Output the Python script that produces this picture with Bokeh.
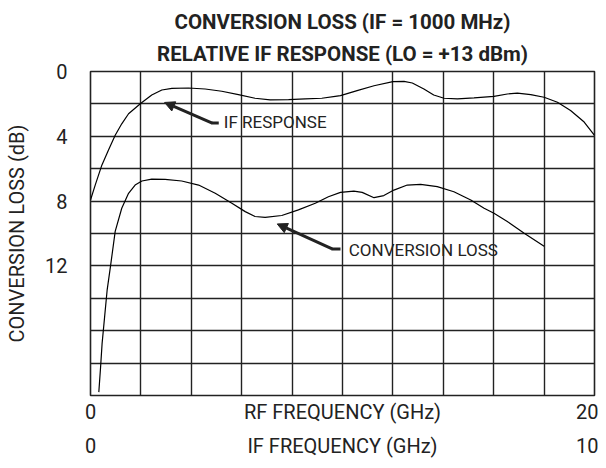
from bokeh.plotting import figure
from bokeh.models import Range1d, LinearAxis, FixedTicker, Title, Label, Arrow, NormalHead
from bokeh.embed import file_html
from bokeh.resources import INLINE

# ---- data ----
if_ghz = [0, 0.19, 0.45, 0.71, 0.98, 1.24, 1.51, 2.0, 2.43, 2.83, 3.23, 3.89, 4.55, 5.21,
          5.87, 6.53, 7.13, 7.86, 8.52, 9.18, 9.71, 9.92, 10.58, 11.25, 12.0, 12.44, 12.77,
          13.23, 13.62, 14.03, 14.56, 15.22, 16.01, 16.54, 16.94, 17.47, 18.0, 18.53, 19.05,
          19.59, 20.0]
if_resp_db = [7.93, 7.0, 5.78, 4.86, 3.94, 3.23, 2.61, 1.96, 1.45, 1.14, 1.04, 1.02, 1.08, 1.22,
              1.43, 1.65, 1.75, 1.73, 1.69, 1.65, 1.53, 1.49, 1.18, 0.88, 0.63, 0.61, 0.71,
              1.08, 1.45, 1.65, 1.69, 1.63, 1.53, 1.39, 1.33, 1.43, 1.59, 1.9, 2.41,
              3.12, 3.94]

cl_ghz = [0.33, 0.40, 0.46, 0.56, 0.66, 0.79, 0.98, 1.24, 1.51, 1.77, 2.04, 2.43, 2.96, 3.62,
          4.29, 4.95, 5.61, 6.14, 6.53, 6.93, 7.59, 8.25, 8.92, 9.44, 9.92, 10.45, 10.78,
          11.25, 11.64, 12.04, 12.57, 13.1, 13.76, 14.42, 15.09, 15.62, 16.01, 16.54, 17.21, 18.0]
cl_db = [19.79, 18.25, 16.8, 15.15, 13.5, 12.06, 9.87, 8.44, 7.52, 7.01, 6.76, 6.64, 6.66, 6.76,
         7.01, 7.52, 8.13, 8.65, 8.95, 9.01, 8.89, 8.54, 8.13, 7.73, 7.46, 7.38, 7.46,
         7.79, 7.66, 7.32, 7.01, 6.97, 7.11, 7.42, 7.93, 8.44, 8.75, 9.26, 9.98, 10.79]

y_ticks = [0, 4, 8, 12]
grid_x = list(range(0, 21, 2))
grid_y = list(range(0, 21, 2))
rf_ticks = [0, 10, 20]
rf_labels = {0: "0", 10: "RF FREQUENCY (GHz)", 20: "20"}
if_ticks = [0, 5, 10]
if_labels = {0: "0", 5: "IF FREQUENCY (GHz)", 10: "10"}

title1 = "CONVERSION LOSS (IF = 1000 MHz)"
title2 = "RELATIVE IF RESPONSE (LO = +13 dBm)"

FONT = "Roboto"
INK = "#222222"

p = figure(frame_width=504, frame_height=324, output_backend="svg", toolbar_location=None,
           x_range=Range1d(0, 20), y_range=Range1d(20, 0),
           min_border_left=90, min_border_right=4, min_border_top=71, min_border_bottom=60,
           x_axis_location=None, y_axis_location=None)
p.background_fill_color = "white"
p.border_fill_color = "white"
p.outline_line_color = INK
p.outline_line_width = 1.6
p.outline_line_alpha = 1.0

# grid
p.xgrid.ticker = FixedTicker(ticks=grid_x)
p.ygrid.ticker = FixedTicker(ticks=grid_y)
for g in (p.xgrid, p.ygrid):
    g.grid_line_color = INK
    g.grid_line_width = 1.4
    g.grid_line_alpha = 1.0

# y axis
yax = LinearAxis(ticker=FixedTicker(ticks=y_ticks), axis_label="CONVERSION LOSS (dB)")
yax.axis_line_color = None
yax.major_tick_line_color = None
yax.minor_tick_line_color = None
yax.major_tick_out = 0
yax.major_tick_in = 0
yax.minor_tick_out = 0
yax.minor_tick_in = 0
yax.major_label_standoff = 23
yax.major_label_text_font = FONT
yax.major_label_text_font_size = "20px"
yax.major_label_text_color = INK
yax.axis_label_text_font = FONT
yax.axis_label_text_font_size = "20px"
yax.axis_label_text_font_style = "normal"
yax.axis_label_text_color = INK
yax.axis_label_standoff = 13
p.add_layout(yax, "left")

# bottom axes
p.extra_x_ranges = {"if": Range1d(0, 10)}
rfax = LinearAxis(ticker=FixedTicker(ticks=rf_ticks), major_label_overrides=rf_labels)
ifax = LinearAxis(ticker=FixedTicker(ticks=if_ticks), major_label_overrides=if_labels,
                  x_range_name="if")
for ax in (rfax, ifax):
    ax.axis_line_color = None
    ax.major_tick_line_color = None
    ax.minor_tick_line_color = None
    ax.major_tick_out = 0
    ax.major_tick_in = 0
    ax.minor_tick_out = 0
    ax.minor_tick_in = 0
    ax.major_label_text_font = FONT
    ax.major_label_text_font_size = "20px"
    ax.major_label_text_color = INK
rfax.major_label_standoff = 4
ifax.major_label_standoff = 7
p.add_layout(rfax, "below")
p.add_layout(ifax, "below")

# titles (closest to the frame first)
t2 = Title(text=title2, align="center", text_font=FONT, text_font_size="20.5px",
           text_font_style="bold", text_color=INK, standoff=12)
t1 = Title(text=title1, align="center", text_font=FONT, text_font_size="20.5px",
           text_font_style="bold", text_color=INK, standoff=0)
p.add_layout(t2, "above")
p.add_layout(t1, "above")

# curves
p.line(if_ghz, if_resp_db, line_color="black", line_width=1.2)
p.line(cl_ghz, cl_db, line_color="black", line_width=1.2)

# annotations
p.add_layout(Arrow(x_start=4.83, y_start=3.18, x_end=2.94, y_end=1.91, line_width=3,
                   line_color=INK,
                   end=NormalHead(size=10, fill_color=INK, line_color=INK, line_width=1)))
p.add_layout(Arrow(x_start=4.80, y_start=3.18, x_end=5.09, y_end=3.18, line_width=3,
                   line_color=INK, end=None))
p.add_layout(Label(x=5.29, y=3.14, text="IF RESPONSE", text_font=FONT,
                   text_font_size="17px", text_color=INK, text_baseline="middle",
                   text_align="left"))

p.add_layout(Arrow(x_start=9.59, y_start=10.95, x_end=7.41, y_end=9.41, line_width=3,
                   line_color=INK,
                   end=NormalHead(size=10, fill_color=INK, line_color=INK, line_width=1)))
p.add_layout(Arrow(x_start=9.56, y_start=10.95, x_end=9.92, y_end=10.95, line_width=3,
                   line_color=INK, end=None))
p.add_layout(Label(x=10.25, y=11.0, text="CONVERSION LOSS", text_font=FONT,
                   text_font_size="17px", text_color=INK, text_baseline="middle",
                   text_align="left"))

open("out.html", "w").write(file_html(p, INLINE))
